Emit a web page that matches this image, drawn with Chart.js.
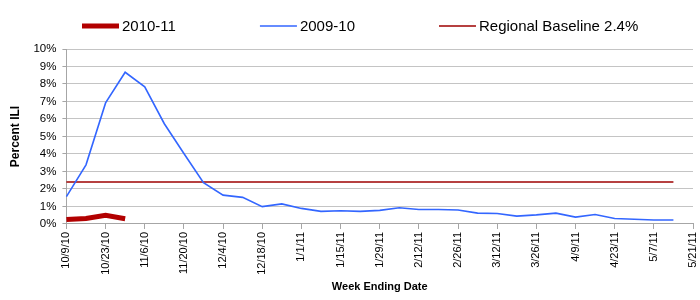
<!DOCTYPE html>
<html>
<head>
<meta charset="utf-8">
<script src="https://cdn.jsdelivr.net/npm/chart.js@4/dist/chart.umd.min.js"></script>
<style>
  html, body { margin: 0; padding: 0; background: #fff; }
  #wrap { width: 700px; height: 300px; }
</style>
</head>
<body>
<div id="wrap"><canvas id="iliChart" width="700" height="300"></canvas></div>
<script>
// week ending dates on the x axis
var weekLabels = ['10/9/10', '10/16/10', '10/23/10', '10/30/10', '11/6/10', '11/13/10', '11/20/10',
    '11/27/10', '12/4/10', '12/11/10', '12/18/10', '12/25/10', '1/1/11', '1/8/11', '1/15/11',
    '1/22/11', '1/29/11', '2/5/11', '2/12/11', '2/19/11', '2/26/11', '3/5/11', '3/12/11',
    '3/19/11', '3/26/11', '4/2/11', '4/9/11', '4/16/11', '4/23/11', '4/30/11', '5/7/11',
    '5/14/11', '5/21/11'];

// percent ILI per week
var season1011 = [0.26, 0.31, 0.5, 0.3];
var season0910 = [1.56, 3.38, 6.92, 8.67, 7.84, 5.73, 4.03, 2.36, 1.65, 1.52, 0.99, 1.15,
    0.89, 0.72, 0.76, 0.72, 0.78, 0.93, 0.83, 0.83, 0.80, 0.62, 0.60, 0.45, 0.52, 0.62,
    0.39, 0.54, 0.31, 0.27, 0.23, 0.23];
var baseline = [2.4, 2.4, 2.4, 2.4, 2.4, 2.4, 2.4, 2.4, 2.4, 2.4, 2.4, 2.4, 2.4, 2.4, 2.4, 2.4,
    2.4, 2.4, 2.4, 2.4, 2.4, 2.4, 2.4, 2.4, 2.4, 2.4, 2.4, 2.4, 2.4, 2.4, 2.4, 2.4];

var yTicks = [0, 1, 2, 3, 4, 5, 6, 7, 8, 9, 10];

var FONT = '"Liberation Sans", Arial, sans-serif';

// legend drawn like the Excel one: short line + text, wide gaps
var excelLegend = {
    id: 'excelLegend',
    afterDraw: function(chart) {
        var ctx = chart.ctx;
        var x = 82, y = 26;
        ctx.save();
        ctx.font = '15px ' + FONT;
        ctx.textBaseline = 'middle';
        chart.data.datasets.forEach(function(ds) {
            ctx.beginPath();
            ctx.strokeStyle = ds.borderColor;
            ctx.lineWidth = ds.borderWidth;
            ctx.moveTo(x, y);
            ctx.lineTo(x + 37, y);
            ctx.stroke();
            ctx.fillStyle = '#000';
            ctx.fillText(ds.label, x + 40, y + 1);
            x += 40 + ctx.measureText(ds.label).width + 84;
        });
        ctx.restore();
    }
};

var ctx = document.getElementById('iliChart').getContext('2d');

var data = {
    labels: weekLabels,
    datasets: [{
        label: '2010-11',
        data: season1011,
        borderColor: '#b20000',
        borderWidth: 5,
        pointRadius: 0,
        tension: 0
    }, {
        label: '2009-10',
        data: season0910,
        borderColor: '#3366ff',
        borderWidth: 1.6,
        pointRadius: 0,
        tension: 0
    }, {
        label: 'Regional Baseline 2.4%',
        data: baseline,
        borderColor: '#9e0000',
        borderWidth: 1.5,
        pointRadius: 0,
        tension: 0
    }]
};

var config = {
    type: 'line',
    data: data,
    plugins: [excelLegend],
    options: {
        responsive: false,
        animation: false,
        layout: { padding: { top: 49, right: 7, bottom: 2, left: 2 } },
        plugins: {
            legend: { display: false },
            tooltip: { enabled: false }
        },
        scales: {
            x: {
                offset: false,
                grid: {
                    drawOnChartArea: false,
                    tickLength: 5,
                    tickColor: function(c) { return c.index % 2 === 0 ? '#a6a6a6' : 'rgba(0,0,0,0)'; }
                },
                border: { color: '#a6a6a6' },
                // last rotated label needs only a few px, not the default reserve
                afterFit: function(axis) { axis.paddingRight = 4; },
                ticks: {
                    autoSkip: false,
                    maxRotation: 90,
                    minRotation: 90,
                    padding: 3,
                    color: '#000',
                    font: { family: FONT, size: 11 },
                    callback: function(v, i) { return i % 2 === 0 ? weekLabels[i] : ''; }
                },
                title: {
                    display: true,
                    text: 'Week Ending Date',
                    color: '#000',
                    font: { family: FONT, size: 11, weight: 'bold' },
                    padding: { top: 3, bottom: 4 }
                }
            },
            y: {
                min: yTicks[0],
                max: yTicks[yTicks.length - 1],
                grid: { color: '#c4c4c4', tickLength: 4, tickColor: '#a6a6a6' },
                border: { color: '#a6a6a6' },
                afterBuildTicks: function(axis) {
                    axis.ticks = yTicks.map(function(v) { return { value: v }; });
                },
                ticks: {
                    padding: 6,
                    color: '#000',
                    font: { family: FONT, size: 11.5 },
                    callback: function(v) { return v + '%'; }
                },
                title: {
                    display: true,
                    text: 'Percent ILI',
                    color: '#000',
                    font: { family: FONT, size: 12, weight: 'bold' },
                    padding: { top: 6, bottom: 5 }
                }
            }
        }
    }
};

var iliChart = new Chart(ctx, config);
</script>
</body>
</html>
